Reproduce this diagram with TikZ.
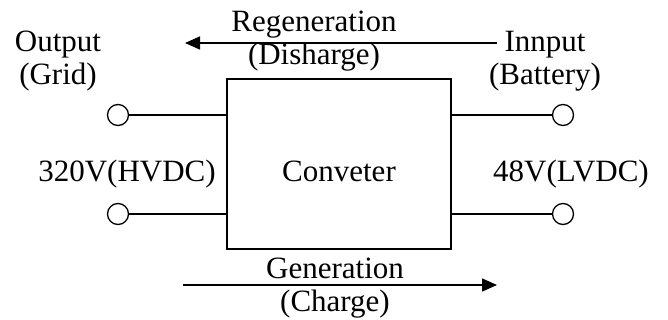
\documentclass[tikz,border=0pt]{standalone}
\usepackage{fontspec}
\setmainfont{Liberation Serif}
\usetikzlibrary{arrows.meta}
\begin{document}
\begin{tikzpicture}[x=1pt,y=-1pt,
  lbl/.style={inner sep=0pt,anchor=base,align=center,font=\fontsize{31}{33}\selectfont},
  term/.style={circle,draw,line width=1.3pt,minimum size=21pt,inner sep=0pt,fill=white},
  wire/.style={line width=1.3pt},
  flow/.style={line width=1.5pt,-{Triangle[length=15pt,width=13pt]}}]
\useasboundingbox (0,0) rectangle (668,320);
% converter box
\node[draw,line width=1.8pt,minimum width=224pt,minimum height=170pt,inner sep=0pt] (conv) at (339,164) {};
\node[lbl] (convt) at (339,182) {Conveter};
% terminals
\node[term] (t1) at (118,115) {};
\node[term] (t2) at (118,214) {};
\node[term] (t3) at (563,115) {};
\node[term] (t4) at (563,214) {};
\coordinate (c1) at (conv.west |- t1);
\coordinate (c2) at (conv.west |- t2);
\coordinate (c3) at (conv.east |- t3);
\coordinate (c4) at (conv.east |- t4);
\draw[wire] (t1) -- (c1);
\draw[wire] (t2) -- (c2);
\draw[wire] (t3) -- (c3);
\draw[wire] (t4) -- (c4);
% labels
\node[lbl] (out) at (58,85) {Output\\(Grid)};
\node[lbl] (inp) at (545,85) {Innput\\(Battery)};
\node[lbl] (hv) at (127,182) {320V(HVDC)};
\node[lbl] (lv) at (571,182) {48V(LVDC)};
\node[lbl] (regen) at (314,65) {Regeneration\\(Disharge)};
\node[lbl] (gen) at (335,311) {Generation\\(Charge)};
% flow arrows
\coordinate (r1) at (497,43);
\coordinate (r2) at (185,43);
\coordinate (g1) at (183,285);
\coordinate (g2) at (497,285);
\draw[flow] (r1) -- (r2);
\draw[flow] (g1) -- (g2);
\end{tikzpicture}
\end{document}
